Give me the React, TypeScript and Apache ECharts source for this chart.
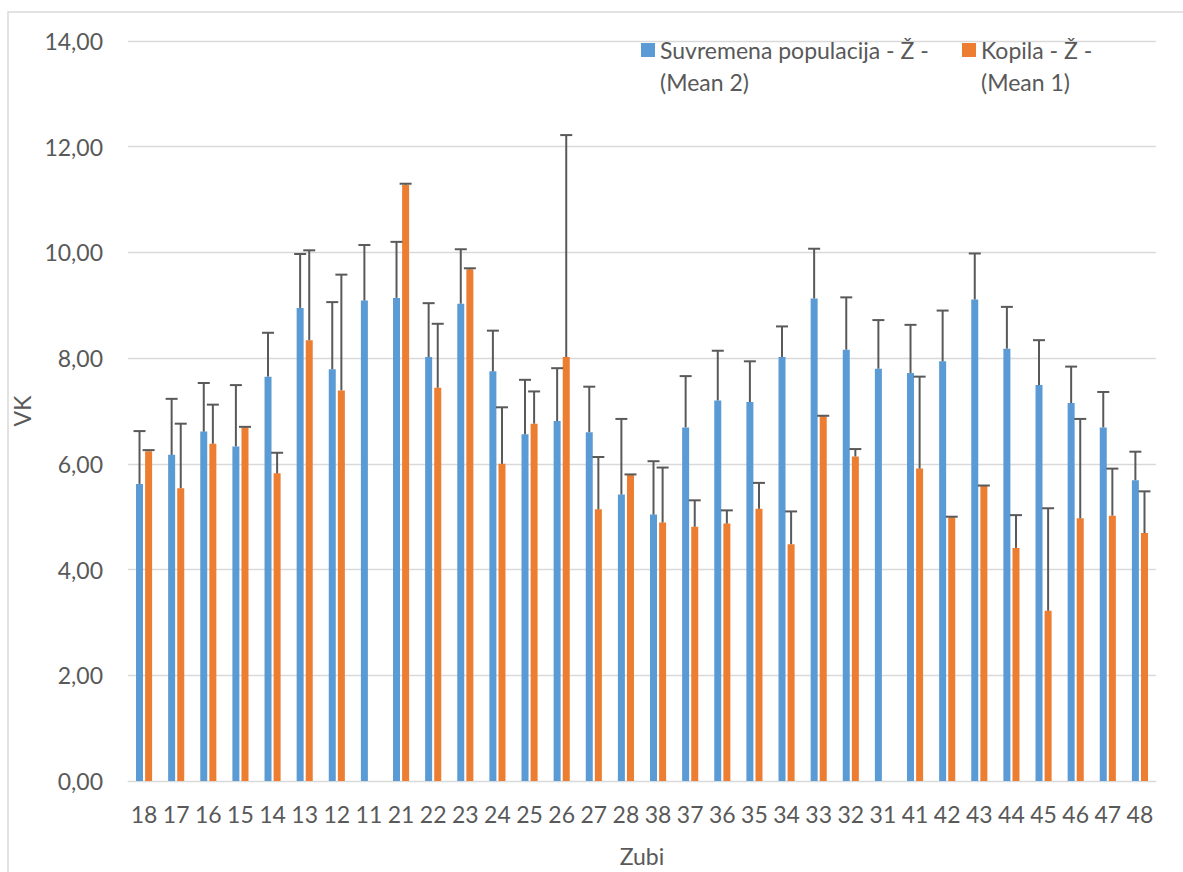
import React, { useEffect, useRef } from "react";
import * as echarts from "echarts";

const categories = ["18","17","16","15","14","13","12","11","21","22","23","24","25","26","27","28","38","37","36","35","34","33","32","31","41","42","43","44","45","46","47","48"];

const seriesNameBlue = "Suvremena populacija - Ž - (Mean 2)";
const seriesNameOrange = "Kopila - Ž - (Mean 1)";

const meanBlue = [5.62,6.17,6.61,6.33,7.65,8.95,7.79,9.09,9.14,8.02,9.03,7.75,6.56,6.81,6.60,5.42,5.04,6.69,7.20,7.17,8.02,9.13,8.16,7.80,7.72,7.94,9.11,8.18,7.49,7.15,6.69,5.69];
const errBlue = [1.00,1.06,0.92,1.16,0.83,1.02,1.27,1.05,1.06,1.02,1.03,0.77,1.03,1.00,0.86,1.43,1.01,0.97,0.94,0.77,0.58,0.94,0.99,0.92,0.91,0.96,0.87,0.79,0.85,0.69,0.67,0.54];

const meanOrange: (number | null)[] = [6.24,5.54,6.38,6.69,5.82,8.34,7.39,null,11.28,7.44,9.68,6.00,6.76,8.02,5.14,5.79,4.89,4.81,4.87,5.15,4.48,6.90,6.14,null,5.91,4.99,5.58,4.41,3.22,4.97,5.02,4.69];
const errOrange: (number | null)[] = [0.02,1.22,0.74,0.01,0.39,1.70,2.19,null,0.02,1.21,0.02,1.07,0.61,4.20,0.99,0.01,1.04,0.50,0.25,0.49,0.62,0.01,0.14,null,1.74,0.01,0.01,0.62,1.94,1.88,0.89,0.79];

const yTicks = [0, 2, 4, 6, 8, 10, 12, 14];

const FONT = "Lato";
const TXT = "#595959";
const BAR_W = 7;
const GAP = 2.1;

function errSeries(name: string, means: (number | null)[], errs: (number | null)[], side: number) {
  const data: number[][] = [];
  means.forEach((m, i) => {
    const e = errs[i];
    if (m != null && e != null) data.push([i, m, m + e]);
  });
  return {
    type: "custom",
    name: name + " error",
    silent: true,
    z: 5,
    encode: { x: 0, y: [1, 2] },
    data,
    renderItem: (_params: any, api: any) => {
      const base = api.coord([api.value(0), api.value(1)]);
      const top = api.coord([api.value(0), api.value(2)]);
      const x = base[0] + side * (BAR_W + GAP) / 2;
      const st = { stroke: "#595959", lineWidth: 2 };
      return {
        type: "group",
        children: [
          { type: "line", shape: { x1: x, y1: base[1], x2: x, y2: top[1] }, style: st },
          { type: "line", shape: { x1: x - 6, y1: top[1], x2: x + 6, y2: top[1] }, style: st },
        ],
      };
    },
  };
}

export default function App() {
  const ref = useRef<HTMLDivElement>(null);
  useEffect(() => {
    if (!ref.current) return;
    const chart = echarts.init(ref.current, undefined, { renderer: "svg" });
    const legendCommon = {
      orient: "horizontal",
      padding: 0,
      itemWidth: 14,
      itemHeight: 14,
      itemGap: 0,
      icon: "rect",
      selectedMode: false,
      formatter: (n: string) => "\n" + n.replace(" (", "\n("),
      textStyle: { fontFamily: FONT, fontSize: 23, color: TXT, lineHeight: 32 },
    };
    chart.setOption({
      animation: false,
      textStyle: { fontFamily: FONT },
      graphic: [
        {
          type: "rect",
          shape: { x: 8, y: 12, width: 1250, height: 950 },
          style: { fill: "none", stroke: "#d9d9d9", lineWidth: 1.5 },
          silent: true,
        },
      ],
      legend: [
        { ...legendCommon, data: [seriesNameBlue], left: 641, top: 2 },
        { ...legendCommon, data: [seriesNameOrange], left: 962, top: 2 },
      ],
      grid: { left: 128, right: 27, top: 41, bottom: 90, containLabel: false },
      xAxis: {
        type: "category",
        data: categories,
        name: "Zubi",
        nameLocation: "middle",
        nameGap: 63,
        nameTextStyle: { fontFamily: FONT, fontSize: 23, color: TXT },
        axisLine: { lineStyle: { color: "#d9d9d9", width: 1 } },
        axisTick: { show: false },
        axisLabel: { interval: 0, margin: 21, fontFamily: FONT, fontSize: 23, color: TXT },
      },
      yAxis: {
        type: "value",
        min: yTicks[0],
        max: yTicks[yTicks.length - 1],
        interval: 2,
        name: "VK",
        nameLocation: "middle",
        nameGap: 86,
        nameTextStyle: { fontFamily: FONT, fontSize: 23, color: TXT },
        axisLine: { show: false },
        axisTick: { show: false },
        splitLine: { lineStyle: { color: "#d9d9d9", width: 1.3 } },
        axisLabel: {
          margin: 25,
          fontFamily: FONT,
          fontSize: 23,
          color: TXT,
          formatter: (v: number) => v.toFixed(2).replace(".", ","),
        },
      },
      series: [
        {
          type: "bar",
          name: seriesNameBlue,
          data: meanBlue,
          barWidth: BAR_W,
          barGap: "30%",
          itemStyle: { color: "#5b9bd5" },
        },
        {
          type: "bar",
          name: seriesNameOrange,
          data: meanOrange,
          barWidth: BAR_W,
          barGap: "30%",
          itemStyle: { color: "#ed7d31" },
        },
        errSeries(seriesNameBlue, meanBlue, errBlue, -1),
        errSeries(seriesNameOrange, meanOrange, errOrange, 1),
      ],
    });
    return () => chart.dispose();
  }, []);
  return (
    <div
      ref={ref}
      style={{ position: "fixed", left: 0, top: 0, width: 1183, height: 872, background: "#fff" }}
    />
  );
}
